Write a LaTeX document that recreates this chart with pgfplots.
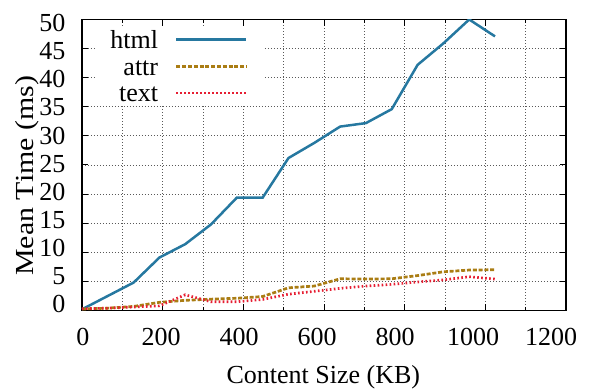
\documentclass[border=0pt]{standalone}
\usepackage{fontspec}
\setmainfont{Liberation Serif}
\usepackage{graphicx}
\usepackage{pgfplots}
\pgfplotsset{compat=1.18}
\definecolor{chtml}{RGB}{38,120,160}
\definecolor{cattr}{RGB}{170,125,20}
\definecolor{ctext}{RGB}{230,30,50}
\newcommand\cf{\fontsize{26pt}{31pt}\selectfont}
\begin{document}
\cf
\begin{tikzpicture}[font=\cf]
\path[use as bounding box] (0,0) rectangle (598pt,390pt);
% main axis
\begin{axis}[
  at={(82pt,79.5pt)}, anchor=south west,
  scale only axis, width=484pt, height=291pt,
  xmin=0, xmax=1200, ymin=0, ymax=50,
  xtick={0,200,...,1200}, minor xtick={100,300,...,1100},
  ytick={0,5,...,50},
  xticklabels={}, yticklabels={},
  tick align=inside, xtick pos=both, ytick pos=both,
  major tick length=6pt, minor tick length=3.5pt,
  every tick/.style={black, line width=1pt},
  axis line style={black, line width=1.2pt},
  grid=both,
  major grid style={black!65, line width=0.8pt, dash pattern=on 0.8pt off 2.2pt},
  minor grid style={black!65, line width=0.8pt, dash pattern=on 0.8pt off 2.2pt},
  xlabel={Content Size (KB)},
  ylabel={\scalebox{1.15}[1]{Mean Time (ms)}},
  label style={font=\cf},
  xlabel style={at={(axis description cs:0.4986,-0.2526)}, anchor=base},
  ylabel style={at={(axis description cs:-0.1006,0.463)}, anchor=base, rotate=0},
  legend plot pos=right,
  legend cell align=right,
  legend image code/.code={\draw[#1] (0pt,0pt) -- (70pt,0pt);},
  legend style={at={(axis description cs:0.374,0.9766)}, anchor=north east,
    draw=none, fill=white, inner xsep=15pt, inner ysep=4pt, font=\cf,
    row sep=8.7pt, column sep=17pt,
    nodes={inner sep=0pt, text height=18pt, text depth=0pt}},
]
\addplot[chtml, line width=2.5pt] coordinates {
(0,0.2) (64,2.5) (128,4.8) (192,9.1) (256,11.4) (320,14.8) (384,19.4) (448,19.4)
(512,26.2) (576,28.8) (640,31.6) (704,32.2) (768,34.6) (832,42.2) (896,45.9) (960,50.0) (1024,47.1)};
\addlegendentry{html}
\addplot[cattr, line width=2.7pt, dash pattern=on 4pt off 1.8pt] coordinates {
(0,0.25) (64,0.4) (128,0.7) (192,1.4) (256,1.75) (320,1.95) (384,2.1) (448,2.4)
(512,3.9) (576,4.2) (640,5.45) (704,5.4) (768,5.45) (832,6.0) (896,6.65) (960,6.95) (1024,7.0)};
\addlegendentry{attr}
\addplot[ctext, line width=2.7pt, dash pattern=on 1.6pt off 2.4pt] coordinates {
(0,0.3) (64,0.4) (128,0.6) (192,0.8) (256,2.7) (320,1.5) (384,1.5) (448,1.9)
(512,2.8) (576,3.3) (640,3.8) (704,4.2) (768,4.5) (832,4.9) (896,5.25) (960,5.8) (1024,5.4)};
\addlegendentry{text}
\end{axis}
% tick labels
\begin{axis}[
  at={(82pt,79.5pt)}, anchor=south west,
  scale only axis, width=484pt, height=291pt,
  xmin=-2.56, xmax=1238.4, ymin=-1.158, ymax=50.67,
  xtick={0,200,...,1200}, ytick={0,5,...,50},
  axis line style={draw=none}, tick style={draw=none},
  major tick length=0pt,
  scaled ticks=false,
  tick label style={font=\cf},
  /pgf/number format/1000 sep={},
  /pgf/number format/assume math mode=true,
  xticklabel style={anchor=north, inner sep=0pt, yshift=-17.5pt},
  yticklabel style={anchor=east, inner sep=0pt, xshift=-16.5pt},
]
\addplot[draw=none, forget plot] coordinates {(0,0)};
\end{axis}
\end{tikzpicture}
\end{document}
